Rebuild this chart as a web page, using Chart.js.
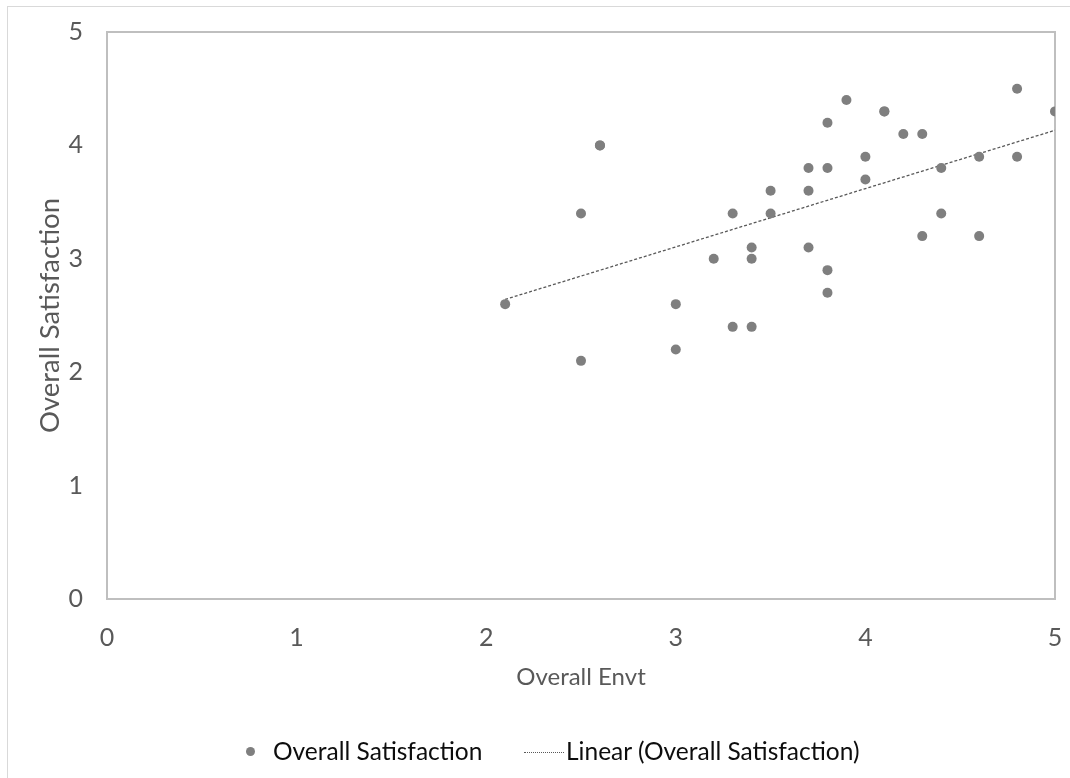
<!DOCTYPE html>
<html lang="en">
<head>
  <meta charset="UTF-8">
  <title>Overall Satisfaction vs Overall Envt</title>
  <script src="https://cdn.jsdelivr.net/npm/chart.js"></script>
  <style>
    html, body { margin: 0; padding: 0; background: #ffffff; overflow: hidden; }
    #wrap { position: relative; width: 1070px; height: 778px; }
    #frame { position: absolute; left: 7px; top: 6px; width: 1100px; height: 800px;
             border-left: 1px solid #d9d9d9; border-top: 1px solid #d9d9d9; }
    #myChart { position: absolute; left: 0; top: 0; }
    .legend-item { position: absolute; top: 736px; height: 30px; display: flex; align-items: center;
                   font-family: Lato, "Open Sans", sans-serif; font-size: 24.5px; line-height: 30px; color: #0d0d0d;
                   white-space: nowrap; }
    .legend-dot { width: 9px; height: 9px; border-radius: 50%; background: #7f7f7f; margin-right: 18px; }
    .legend-line { width: 40px; height: 0; border-top: 1px dotted #595959; margin-right: 2px; margin-top: 2px; }
  </style>
</head>
<body>
<div id="wrap">
  <div id="frame"></div>
  <canvas id="myChart" width="1070" height="778"></canvas>
  <div id="legend"></div>
</div>

<script>
  // data
  const envtValues = [2.1, 2.5, 2.5, 2.6, 3.0, 3.0, 3.2, 3.3, 3.3, 3.4, 3.4, 3.4, 3.5, 3.5, 3.7, 3.7, 3.7, 3.8,
                      3.8, 3.8, 3.8, 3.9, 4.0, 4.0, 4.1, 4.2, 4.3, 4.3, 4.4, 4.4, 4.6, 4.6, 4.8, 4.8, 5.0,
                      // two answers hidden under others (needed for the trendline to come out as drawn)
                      2.6, 4.1];
  const satisfactionValues = [2.6, 3.4, 2.1, 4.0, 2.6, 2.2, 3.0, 3.4, 2.4, 3.1, 3.0, 2.4, 3.6, 3.4, 3.8, 3.6, 3.1, 4.2,
                              3.8, 2.9, 2.7, 4.4, 3.9, 3.7, 4.3, 4.1, 4.1, 3.2, 3.8, 3.4, 3.9, 3.2, 4.5, 3.9, 4.3,
                              4.0, 4.3];
  const axisTicks = [0, 1, 2, 3, 4, 5];
  const seriesLabels = ['Overall Satisfaction', 'Linear (Overall Satisfaction)'];
  const legendLeft = [246, 524];

  const mainFont = 'Lato, "Open Sans", sans-serif';

  // least squares trend line (Excel "Linear" trendline)
  function linearFit(xs, ys) {
    const n = xs.length;
    const mx = xs.reduce((a, b) => a + b, 0) / n;
    const my = ys.reduce((a, b) => a + b, 0) / n;
    let sxy = 0, sxx = 0;
    xs.forEach((x, i) => { sxy += (x - mx) * (ys[i] - my); sxx += (x - mx) * (x - mx); });
    const slope = sxy / sxx;
    return { slope, intercept: my - slope * mx };
  }
  const fit = linearFit(envtValues, satisfactionValues);
  const xMin = Math.min(...envtValues);
  const xMax = Math.max(...envtValues);
  const trendPoints = [xMin, xMax].map((x) => ({ x, y: fit.intercept + fit.slope * x }));

  const chartAreaBorder = {
    id: 'chartAreaBorder',
    beforeDraw(chart) {
      const { ctx, chartArea } = chart;
      ctx.save();
      ctx.strokeStyle = '#bfbfbf';
      ctx.lineWidth = 2;
      ctx.strokeRect(chartArea.left, chartArea.top, chartArea.right - chartArea.left, chartArea.bottom - chartArea.top);
      ctx.restore();
    }
  };

  // html legend built from the datasets
  const htmlLegend = {
    id: 'htmlLegend',
    afterUpdate(chart) {
      const box = document.getElementById('legend');
      box.innerHTML = '';
      chart.data.datasets.forEach((ds, i) => {
        const item = document.createElement('div');
        item.className = 'legend-item';
        item.style.left = legendLeft[i] + 'px';
        const mark = document.createElement('span');
        mark.className = ds.type === 'line' ? 'legend-line' : 'legend-dot';
        const text = document.createElement('span');
        text.textContent = ds.label;
        item.appendChild(mark);
        item.appendChild(text);
        box.appendChild(item);
      });
    }
  };

  const ctx = document.getElementById('myChart').getContext('2d');
  new Chart(ctx, {
    data: {
      datasets: [
        {
          type: 'scatter',
          label: seriesLabels[0],
          data: envtValues.map((x, i) => ({ x, y: satisfactionValues[i] })),
          backgroundColor: '#7f7f7f',
          borderColor: '#7f7f7f',
          borderWidth: 0,
          pointRadius: 5,
          pointHoverRadius: 5,
        },
        {
          type: 'line',
          label: seriesLabels[1],
          data: trendPoints,
          borderColor: '#595959',
          backgroundColor: '#595959',
          borderWidth: 1.3,
          borderDash: [3, 2],
          pointRadius: 0,
          fill: false,
        },
      ],
    },
    options: {
      responsive: false,
      animation: false,
      layout: {
        padding: { left: 0, top: 32, right: 15, bottom: 79 },
      },
      plugins: {
        tooltip: { enabled: false },
        legend: { display: false },
      },
      scales: {
        x: {
          type: 'linear',
          min: axisTicks[0],
          max: axisTicks[axisTicks.length - 1],
          grid: { drawOnChartArea: false, drawTicks: true, tickLength: 24, tickColor: 'rgba(0,0,0,0)' },
          border: { display: false },
          afterBuildTicks: (scale) => { scale.ticks = axisTicks.map((v) => ({ value: v })); },
          afterFit: (scale) => { scale.height = 100; },
          ticks: {
            padding: 0,
            maxRotation: 0,
            autoSkip: false,
            color: '#595959',
            font: { size: 25, family: mainFont },
          },
          title: {
            display: true,
            text: 'Overall Envt',
            color: '#595959',
            font: { size: 24, family: mainFont },
            padding: { top: 0, bottom: 7 },
          },
        },
        y: {
          type: 'linear',
          min: axisTicks[0],
          max: axisTicks[axisTicks.length - 1],
          grid: { drawOnChartArea: false, drawTicks: true, tickLength: 24, tickColor: 'rgba(0,0,0,0)' },
          border: { display: false },
          afterBuildTicks: (scale) => { scale.ticks = axisTicks.map((v) => ({ value: v })); },
          afterFit: (scale) => { scale.width = 107; },
          ticks: {
            padding: 0,
            color: '#595959',
            font: { size: 25, family: mainFont },
          },
          title: {
            display: true,
            text: 'Overall Satisfaction',
            color: '#595959',
            font: { size: 27.5, family: mainFont },
            padding: { top: 34, bottom: 0 },
          },
        },
      },
    },
    plugins: [chartAreaBorder, htmlLegend],
  });
</script>
</body>
</html>
